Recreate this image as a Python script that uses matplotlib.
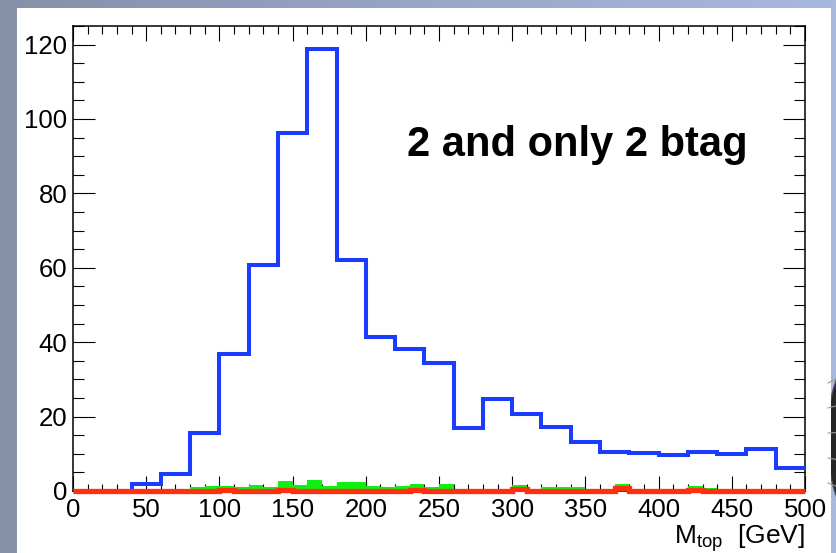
import numpy as np
import matplotlib
matplotlib.use("Agg")
import matplotlib.pyplot as plt
from matplotlib.patches import Rectangle, Ellipse
from matplotlib.ticker import MultipleLocator
from matplotlib.colors import LinearSegmentedColormap

plt.rcParams['font.family'] = ['Liberation Sans', 'DejaVu Sans']
plt.rcParams['mathtext.default'] = 'regular'

# ---- data -------------------------------------------------------------
# signal-like sample, 20 GeV bins from 0 to 500 GeV
blue_edges = np.arange(0, 520, 20)
blue_counts = [0, 0, 2.0, 4.5, 15.5, 36.9, 60.8, 96.3, 118.8, 62.2,
               41.4, 38.1, 34.5, 17.0, 24.8, 20.8, 17.2, 13.2, 10.6, 10.3,
               9.8, 10.4, 9.9, 11.4, 6.25]

# background samples, 10 GeV bins
bkg_edges = np.arange(0, 510, 10)
green_counts = [0, 0, 0, 0, 0, 0, 0, 0, 1.0, 1.4,
                1.3, 1.1, 1.7, 1.2, 2.6, 1.5, 2.9, 1.4, 2.3, 2.3,
                1.3, 1.0, 1.3, 1.8, 1.1, 2.0, 0.4, 0.4, 0.4, 0.4,
                1.5, 0.5, 1.1, 1.1, 1.1, 0.5, 0.4, 1.9, 0.4, 0.4,
                0.4, 0.4, 1.3, 0.9, 0.4, 0.4, 0.4, 0.4, 0.4, 0.4]
red_counts = [0] * 50
red_counts[10] = 0.4
red_counts[14] = 0.3
red_counts[23] = 0.4
red_counts[30] = 0.6
red_counts[37] = 0.9
red_counts[42] = 0.4

x_ticks = [0, 50, 100, 150, 200, 250, 300, 350, 400, 450, 500]
y_ticks = [0, 20, 40, 60, 80, 100, 120]
title_text = "2 and only 2 btag"
x_label = r"$M_{top}$  [GeV]"

# ---- figure -----------------------------------------------------------
W, H = 837, 553
fig = plt.figure(figsize=(W / 100, H / 100), dpi=100)

# slide background with a soft left-to-right gradient
bg = fig.add_axes([0, 0, 1, 1], zorder=-10)
bg.set_xlim(0, W)
bg.set_ylim(H, 0)
bg.axis('off')
grad = np.linspace(0, 1, 256)[None, :]
cmap = LinearSegmentedColormap.from_list('slide', ['#8590a9', '#98a6c6', '#a8b9de'])
bg.imshow(grad, cmap=cmap, extent=[0, W, H, 0], aspect='auto')
# dark wire globe peeking at the right edge
bg.add_patch(Ellipse((872, 438), 90, 190, facecolor='#262626', edgecolor='#4a4a4a', lw=1))
for dy in (-55, -30, -5, 20, 45):
    bg.plot([828, 837], [438 + dy, 438 + dy * 1.08], color='#9a9a9a', lw=0.8)
# white panel
bg.add_patch(Rectangle((17, 8), 814, H - 8, facecolor='white', edgecolor='none'))

# ---- histogram axes ---------------------------------------------------
ax = fig.add_axes([73 / W, (H - 491) / H, 732 / W, 465 / H])
ax.set_facecolor('white')

ax.stairs(green_counts, bkg_edges, fill=True, color='#10f010', zorder=2)
ax.stairs(blue_counts, blue_edges, baseline=None, color='#1a3cff', lw=2.9, zorder=3)
ax.stairs(red_counts, bkg_edges, baseline=None, color='#ff3010', lw=3.8,
          zorder=4, clip_on=False)

ax.set_xlim(0, 500)
ax.set_ylim(0, 125)

ax.set_xticks(x_ticks)
ax.set_yticks(y_ticks)
ax.xaxis.set_minor_locator(MultipleLocator(10))
ax.yaxis.set_minor_locator(MultipleLocator(5))
ax.tick_params(axis='both', which='both', direction='in', top=True, right=True,
               color='black', width=0.8, labelsize=18.5)
ax.tick_params(axis='x', which='major', length=10.8, pad=5)
ax.tick_params(axis='x', which='minor', length=5.4)
ax.tick_params(axis='y', which='major', length=15.8, pad=4)
ax.tick_params(axis='y', which='minor', length=8)
for s in ax.spines.values():
    s.set_linewidth(1.1)
    s.set_color('black')

ax.text(228, 90, title_text, fontsize=30, fontweight='bold', ha='left',
        va='baseline', zorder=5)

ax.set_xlabel(x_label, fontsize=19, ha='right', x=1.0, labelpad=0)

fig.savefig('out.png', dpi=100)
